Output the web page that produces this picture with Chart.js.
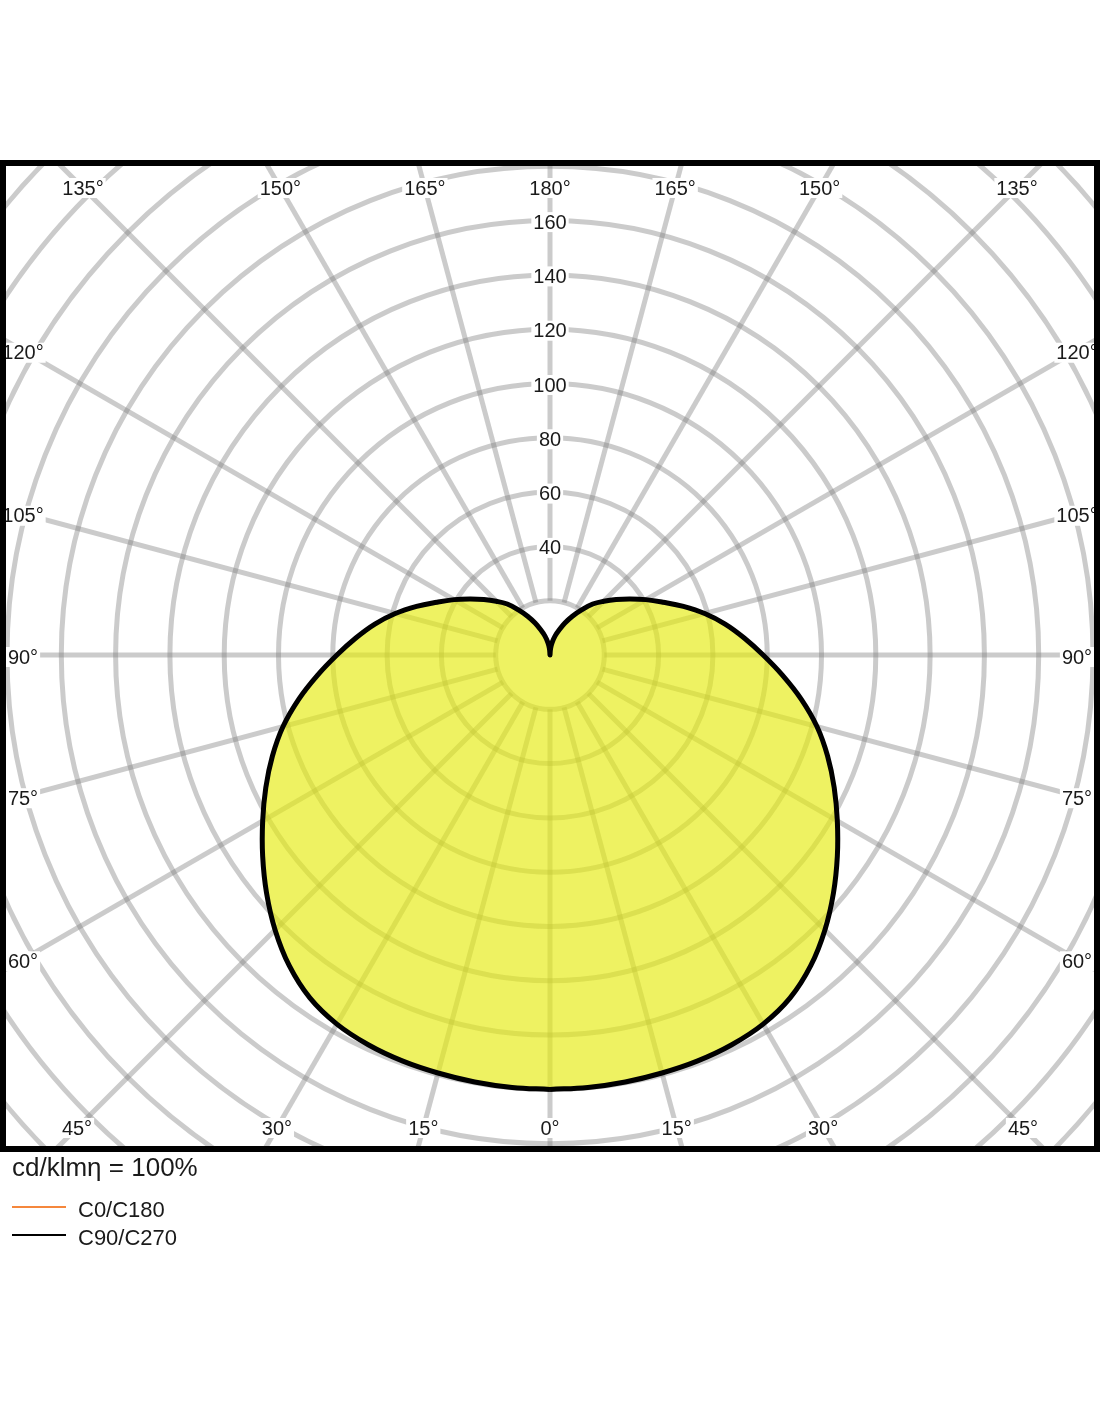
<!DOCTYPE html>
<html>
<head>
<meta charset="utf-8">
<title>Polar intensity diagram</title>
<script src="https://cdn.jsdelivr.net/npm/chart.js@4.4.1/dist/chart.umd.min.js"></script>
<style>
  body { margin: 0; background: #fff; font-family: "Liberation Sans", Arial, sans-serif; color: #1a1a1a; }
  #wrap { position: relative; width: 1100px; height: 1422px; }
  #wrap canvas { position: absolute; left: 0; top: 0; }
  .note { position: absolute; white-space: nowrap; line-height: 1; }
  .swatch { position: absolute; left: 12px; width: 54px; }
</style>
</head>
<body>
<div id="wrap">
  <canvas id="polarChart"></canvas>
  <div class="note" style="left:12px; top:1154px; font-size:26px;">cd/klmη = 100%</div>
  <div class="swatch" style="top:1206px; height:2px; background:#f5873c;"></div>
  <div class="note" style="left:78px; top:1199px; font-size:22px;">C0/C180</div>
  <div class="swatch" style="top:1234px; height:2px; background:#000;"></div>
  <div class="note" style="left:78px; top:1227px; font-size:22px;">C90/C270</div>
</div>
<script>
// gamma angles (0 = straight down, 180 = straight up), cd/klm
const gammaAngles = [0, 5, 10, 15, 20, 25, 30, 35, 40, 45, 50, 55, 60, 65, 70, 75, 80, 85, 90,
  95, 100, 105, 110, 115, 120, 125, 130, 135, 140, 145, 150, 155, 160, 165, 170, 175, 180];
const c0c180 = [160, 159.9, 159.7, 159.4, 159.1, 158.4, 157, 154.2, 149.4, 143.2, 136.3, 129.2, 122.2, 115.5, 108.8, 101.8, 94, 86, 78.5,
  71.8, 65.5, 59, 52.3, 46, 40.8, 36, 31.8, 28, 24.5, 20.3, 16.5, 13, 9.8, 7.3, 4.8, 2.4, 0];
const c90c270 = [160, 159.9, 159.7, 159.4, 159.1, 158.4, 157, 154.2, 149.4, 143.2, 136.3, 129.2, 122.2, 115.5, 108.8, 101.8, 94, 86, 78.5,
  71.8, 65.5, 59, 52.3, 46, 40.8, 36, 31.8, 28, 24.5, 20.3, 16.5, 13, 9.8, 7.3, 4.8, 2.4, 0];

// grid
const ringValues = [20, 40, 60, 80, 100, 120, 140, 160, 180, 200, 220, 240, 260];
const ringLabels = [40, 60, 80, 100, 120, 140, 160];
const spokeAngles = [0, 15, 30, 45, 60, 75, 90, 105, 120, 135, 150, 165, 180];

const PX_PER_UNIT = 2.715;
const RANGE_X = 550 / PX_PER_UNIT;
const RANGE_Y = 495 / PX_PER_UNIT;

// polar -> cartesian, right half (C90 / C0) then left half back down (C270 / C180)
function toShape(values) {
  const pts = [];
  gammaAngles.forEach((g, i) => {
    const a = g * Math.PI / 180;
    pts.push({ x: values[i] * Math.sin(a), y: -values[i] * Math.cos(a) });
  });
  for (let i = gammaAngles.length - 1; i >= 0; i--) {
    const a = gammaAngles[i] * Math.PI / 180;
    pts.push({ x: -values[i] * Math.sin(a), y: -values[i] * Math.cos(a) });
  }
  return pts;
}

const LABEL_FONT = '20px "Liberation Sans", Arial, sans-serif';

function labelBox(ctx, text, x, y) {
  const w = ctx.measureText(text).width;
  ctx.fillStyle = '#fff';
  ctx.fillRect(x - w / 2 - 2, y - 10, w + 4, 20);
  ctx.fillStyle = '#1a1a1a';
  ctx.fillText(text, x, y + 1);
}

const polarGrid = {
  id: 'polarGrid',
  beforeDatasetsDraw(chart) {
    const { ctx, chartArea, scales: { x, y } } = chart;
    const cx = x.getPixelForValue(0);
    const cy = y.getPixelForValue(0);
    const k = x.getPixelForValue(1) - cx;

    ctx.save();
    ctx.beginPath();
    ctx.rect(chartArea.left, chartArea.top, chartArea.right - chartArea.left, chartArea.bottom - chartArea.top);
    ctx.clip();

    ctx.strokeStyle = 'rgba(125,125,125,0.4)';
    ctx.lineWidth = 5;
    ringValues.forEach(v => {
      ctx.beginPath();
      ctx.arc(cx, cy, v * k, 0, Math.PI * 2);
      ctx.stroke();
    });

    const r0 = ringValues[0] * k;
    const dirs = [];
    spokeAngles.forEach(g => {
      dirs.push({ g, side: 1 });
      if (g !== 0 && g !== 180) dirs.push({ g, side: -1 });
    });
    dirs.forEach(d => {
      const a = d.g * Math.PI / 180;
      const ux = d.side * Math.sin(a), uy = Math.cos(a);
      ctx.beginPath();
      ctx.moveTo(cx + ux * r0, cy + uy * r0);
      ctx.lineTo(cx + ux * 1200, cy + uy * 1200);
      ctx.stroke();
    });

    ctx.font = LABEL_FONT;
    ctx.textAlign = 'center';
    ctx.textBaseline = 'middle';

    // degree labels where each spoke meets an inset frame
    const left = chartArea.left + 23, right = chartArea.right - 23;
    const top = chartArea.top + 28, bottom = chartArea.bottom - 22;
    dirs.forEach(d => {
      const a = d.g * Math.PI / 180;
      const ux = d.side * Math.sin(a), uy = Math.cos(a);
      let t = Infinity;
      if (ux > 1e-6) t = Math.min(t, (right - cx) / ux);
      if (ux < -1e-6) t = Math.min(t, (left - cx) / ux);
      const tSide = t;
      if (uy > 1e-6) t = Math.min(t, (bottom - cy) / uy);
      if (uy < -1e-6) t = Math.min(t, (top - cy) / uy);
      const onSide = t === tSide;
      labelBox(ctx, d.g + '°', cx + ux * t, cy + uy * t + (onSide ? 2 : 0));
    });

    // intensity labels along the 180° spoke
    ringLabels.forEach(v => labelBox(ctx, String(v), cx, cy - v * k + 1.5));
    ctx.restore();
  },
  afterDraw(chart) {
    const { ctx, chartArea } = chart;
    ctx.save();
    ctx.strokeStyle = '#000';
    ctx.lineWidth = 6;
    ctx.strokeRect(chartArea.left + 3, chartArea.top + 3, chartArea.right - chartArea.left - 6, chartArea.bottom - chartArea.top - 4);
    ctx.restore();
  }
};

new Chart(document.getElementById('polarChart').getContext('2d'), {
  type: 'scatter',
  data: {
    datasets: [
      {
        label: 'C0/C180',
        data: toShape(c0c180),
        showLine: true,
        borderColor: '#f5873c',
        borderWidth: 2,
        pointRadius: 0,
        fill: false,
        tension: 0.4,
        order: 2
      },
      {
        label: 'C90/C270',
        data: toShape(c90c270),
        showLine: true,
        borderColor: '#000',
        borderWidth: 5,
        borderJoinStyle: 'round',
        backgroundColor: 'rgba(229, 235, 14, 0.65)',
        pointRadius: 0,
        fill: 'shape',
        tension: 0.4,
        order: 1
      }
    ]
  },
  options: {
    responsive: true,
    maintainAspectRatio: false,
    animation: false,
    layout: { padding: { top: 160, bottom: 272, left: 0, right: 0 } },
    scales: {
      x: { type: 'linear', display: false, min: -RANGE_X, max: RANGE_X },
      y: { type: 'linear', display: false, min: -RANGE_Y, max: RANGE_Y }
    },
    plugins: {
      legend: { display: false },
      tooltip: { enabled: false }
    }
  },
  plugins: [polarGrid]
});
</script>
</body>
</html>
